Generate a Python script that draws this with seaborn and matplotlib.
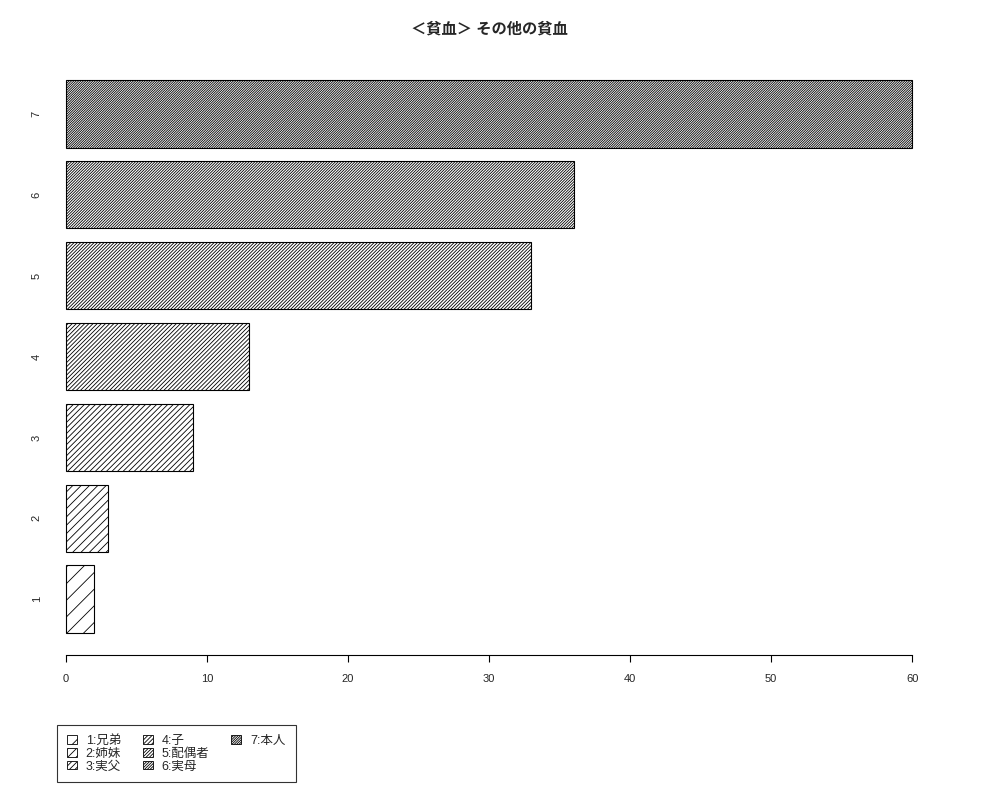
import matplotlib
matplotlib.use("Agg")
import matplotlib.pyplot as plt
from matplotlib.patches import Patch
import pandas as pd
import seaborn as sns

# data
categories = ["1", "2", "3", "4", "5", "6", "7"]
counts = [2, 3, 9, 13, 33, 36, 60]
legend_labels = ["1:兄弟", "2:姉妹", "3:実父", "4:子", "5:配偶者", "6:実母", "7:本人"]
x_ticks = [0, 10, 20, 30, 40, 50, 60]

sns.set_style("white")
plt.rcParams["font.family"] = ["Liberation Sans", "Noto Sans CJK JP", "DejaVu Sans"]
plt.rcParams["hatch.linewidth"] = 0.6
plt.rcParams["hatch.color"] = "black"

df = pd.DataFrame({"group": categories, "count": counts})
order = categories[::-1]

fig = plt.figure(figsize=(10, 8), dpi=100)
ax = fig.add_axes([0.032, 0.18125, 0.914, 0.74625])

sns.barplot(
    data=df,
    x="count",
    y="group",
    order=order,
    orient="h",
    width=1 / 1.2,
    color="white",
    edgecolor="black",
    linewidth=0.8,
    ax=ax,
)

# hatch density grows with the category number
for patch, name in zip(ax.patches, order):
    patch.set_hatch("/" * (2 * int(name)))
    patch.set_facecolor("white")

ax.set_xlim(-2.4, 62.4)
ax.set_ylim(6.69, -0.69)

ax.set_xticks(x_ticks)
ax.set_xticklabels([str(t) for t in x_ticks], fontsize=8)
ax.tick_params(axis="x", length=5, width=0.8, color="black", pad=9, bottom=True)
ax.tick_params(axis="y", length=0, pad=-7)
for label in ax.get_yticklabels():
    label.set_rotation(90)
    label.set_fontsize(8)
    label.set_va("center")

ax.set_xlabel("")
ax.set_ylabel("")

for side in ["top", "right", "left"]:
    ax.spines[side].set_visible(False)
ax.spines["bottom"].set_bounds(0, 60)
ax.spines["bottom"].set_color("black")
ax.spines["bottom"].set_linewidth(0.8)

fig.suptitle("＜貧血＞ その他の貧血", x=0.489, y=0.972, fontsize=11, fontweight="bold")

# legend, filled column-wise like the original
handles = [
    Patch(facecolor="white", edgecolor="black", hatch="/" * (2 * (i + 1)), linewidth=0.6)
    for i in range(len(legend_labels))
]
labels = list(legend_labels)
handles += [Patch(visible=False), Patch(visible=False)]
labels += ["", ""]

leg = fig.legend(
    handles,
    labels,
    ncol=3,
    loc="lower left",
    bbox_to_anchor=(0.057, 0.022),
    borderaxespad=0,
    fontsize=9,
    frameon=True,
    fancybox=False,
    handlelength=0.8,
    handleheight=0.7,
    handletextpad=0.7,
    columnspacing=1.75,
    labelspacing=0.05,
    borderpad=0.8,
)
leg.get_frame().set_edgecolor("black")
leg.get_frame().set_linewidth(0.8)

fig.savefig("out.png", dpi=100)
